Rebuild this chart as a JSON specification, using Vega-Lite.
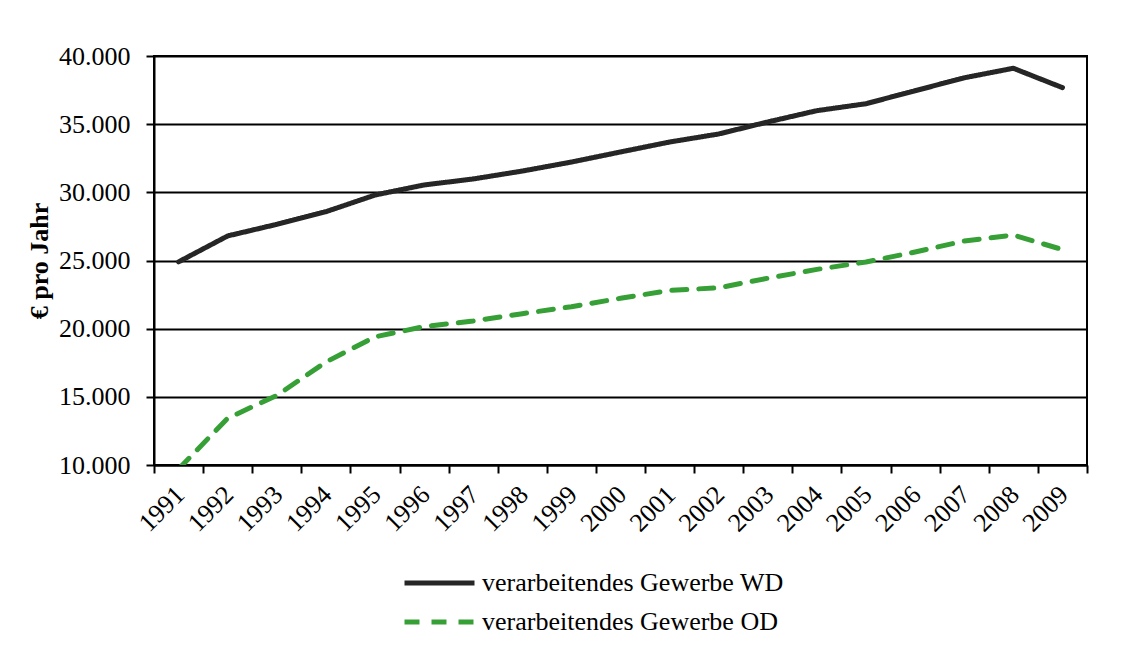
{
  "$schema": "https://vega.github.io/schema/vega-lite/v6.json",
  "autosize": {"type": "none"},
  "width": 933,
  "height": 409,
  "padding": {"left": 154, "top": 56, "right": 40, "bottom": 187},
  "background": "white",
  "config": {
    "locale": {"number": {"decimal": ",", "thousands": ".", "grouping": [3], "currency": ["", " €"]}},
    "font": "Liberation Serif",
    "view": {"stroke": "#000000", "strokeWidth": 2},
    "axis": {"labelFont": "Liberation Serif", "labelFontSize": 26, "labelColor": "#000000", "domainColor": "#000000", "tickColor": "#000000", "domainWidth": 2, "tickWidth": 2, "titleFont": "Liberation Serif"}
  },
  "data": {
    "values": [
      {"Jahr": "1991", "Reihe": "verarbeitendes Gewerbe WD", "Wert": 24900},
      {"Jahr": "1992", "Reihe": "verarbeitendes Gewerbe WD", "Wert": 26800},
      {"Jahr": "1993", "Reihe": "verarbeitendes Gewerbe WD", "Wert": 27650},
      {"Jahr": "1994", "Reihe": "verarbeitendes Gewerbe WD", "Wert": 28580},
      {"Jahr": "1995", "Reihe": "verarbeitendes Gewerbe WD", "Wert": 29800},
      {"Jahr": "1996", "Reihe": "verarbeitendes Gewerbe WD", "Wert": 30540},
      {"Jahr": "1997", "Reihe": "verarbeitendes Gewerbe WD", "Wert": 30980},
      {"Jahr": "1998", "Reihe": "verarbeitendes Gewerbe WD", "Wert": 31560},
      {"Jahr": "1999", "Reihe": "verarbeitendes Gewerbe WD", "Wert": 32220},
      {"Jahr": "2000", "Reihe": "verarbeitendes Gewerbe WD", "Wert": 32960},
      {"Jahr": "2001", "Reihe": "verarbeitendes Gewerbe WD", "Wert": 33690},
      {"Jahr": "2002", "Reihe": "verarbeitendes Gewerbe WD", "Wert": 34280},
      {"Jahr": "2003", "Reihe": "verarbeitendes Gewerbe WD", "Wert": 35160},
      {"Jahr": "2004", "Reihe": "verarbeitendes Gewerbe WD", "Wert": 35990},
      {"Jahr": "2005", "Reihe": "verarbeitendes Gewerbe WD", "Wert": 36500},
      {"Jahr": "2006", "Reihe": "verarbeitendes Gewerbe WD", "Wert": 37450},
      {"Jahr": "2007", "Reihe": "verarbeitendes Gewerbe WD", "Wert": 38400},
      {"Jahr": "2008", "Reihe": "verarbeitendes Gewerbe WD", "Wert": 39100},
      {"Jahr": "2009", "Reihe": "verarbeitendes Gewerbe WD", "Wert": 37680},
      {"Jahr": "1991", "Reihe": "verarbeitendes Gewerbe OD", "Wert": 9700},
      {"Jahr": "1992", "Reihe": "verarbeitendes Gewerbe OD", "Wert": 13430},
      {"Jahr": "1993", "Reihe": "verarbeitendes Gewerbe OD", "Wert": 15100},
      {"Jahr": "1994", "Reihe": "verarbeitendes Gewerbe OD", "Wert": 17550},
      {"Jahr": "1995", "Reihe": "verarbeitendes Gewerbe OD", "Wert": 19400},
      {"Jahr": "1996", "Reihe": "verarbeitendes Gewerbe OD", "Wert": 20150},
      {"Jahr": "1997", "Reihe": "verarbeitendes Gewerbe OD", "Wert": 20560},
      {"Jahr": "1998", "Reihe": "verarbeitendes Gewerbe OD", "Wert": 21100},
      {"Jahr": "1999", "Reihe": "verarbeitendes Gewerbe OD", "Wert": 21610},
      {"Jahr": "2000", "Reihe": "verarbeitendes Gewerbe OD", "Wert": 22230},
      {"Jahr": "2001", "Reihe": "verarbeitendes Gewerbe OD", "Wert": 22800},
      {"Jahr": "2002", "Reihe": "verarbeitendes Gewerbe OD", "Wert": 23000},
      {"Jahr": "2003", "Reihe": "verarbeitendes Gewerbe OD", "Wert": 23700},
      {"Jahr": "2004", "Reihe": "verarbeitendes Gewerbe OD", "Wert": 24350},
      {"Jahr": "2005", "Reihe": "verarbeitendes Gewerbe OD", "Wert": 24890},
      {"Jahr": "2006", "Reihe": "verarbeitendes Gewerbe OD", "Wert": 25620},
      {"Jahr": "2007", "Reihe": "verarbeitendes Gewerbe OD", "Wert": 26430},
      {"Jahr": "2008", "Reihe": "verarbeitendes Gewerbe OD", "Wert": 26870},
      {"Jahr": "2009", "Reihe": "verarbeitendes Gewerbe OD", "Wert": 25800}
    ]
  },
  "mark": {"type": "line", "strokeWidth": 5, "clip": true, "strokeCap": "round", "strokeJoin": "round"},
  "encoding": {
    "x": {
      "field": "Jahr", "type": "ordinal", "bandPosition": 0.5,
      "scale": {"type": "band", "paddingInner": 0, "paddingOuter": 0},
      "axis": {"title": null, "labelAngle": -45, "labelAlign": "right", "labelBaseline": "top", "labelPadding": 8, "labelOffset": -8, "tickBand": "extent", "tickSize": 8, "grid": false, "labelOverlap": false}
    },
    "y": {
      "field": "Wert", "type": "quantitative",
      "scale": {"domain": [10000, 40000], "nice": false, "zero": false},
      "axis": {"title": "€  pro Jahr", "titleFontSize": 26, "titleFontWeight": "bold", "titleColor": "#000000", "titlePadding": 6, "format": ",.0f", "values": [10000, 15000, 20000, 25000, 30000, 35000, 40000], "tickSize": 8, "labelPadding": 16, "grid": true, "gridColor": "#000000", "gridWidth": 2, "gridOpacity": 1}
    },
    "color": {
      "field": "Reihe", "type": "nominal",
      "scale": {"domain": ["verarbeitendes Gewerbe WD", "verarbeitendes Gewerbe OD"], "range": ["#262626", "#36a036"]},
      "legend": {"title": null, "orient": "none", "legendX": 248, "legendY": 514, "direction": "vertical", "symbolType": "stroke", "symbolSize": 4900, "symbolStrokeWidth": 5, "labelFont": "Liberation Serif", "labelFontSize": 26, "labelColor": "#000000", "labelOffset": 5, "labelLimit": 0, "clipHeight": 26, "rowPadding": 13, "padding": 0}
    },
    "strokeDash": {
      "field": "Reihe", "type": "nominal",
      "scale": {"domain": ["verarbeitendes Gewerbe WD", "verarbeitendes Gewerbe OD"], "range": [[1, 0], [15, 12]]},
      "legend": null
    }
  }
}
